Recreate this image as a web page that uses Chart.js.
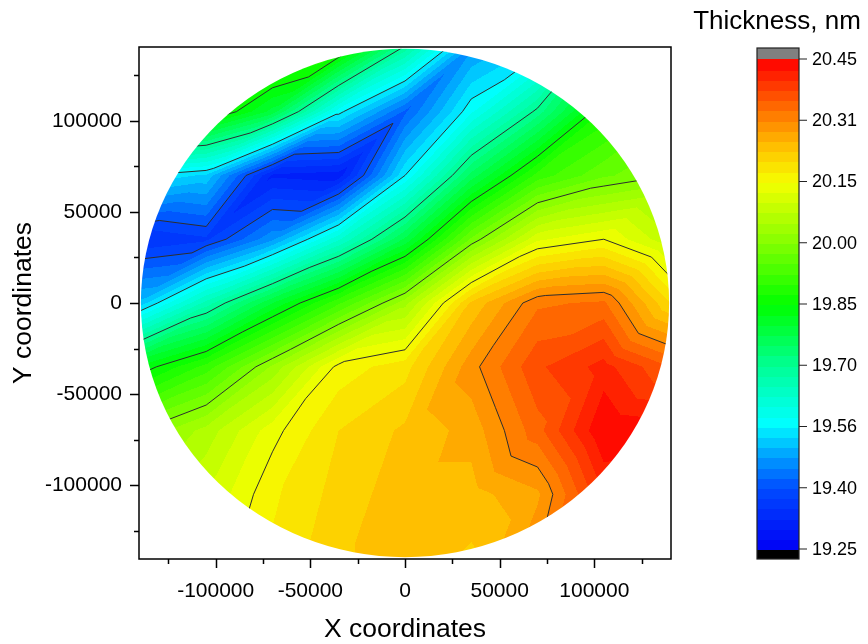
<!DOCTYPE html>
<html>
<head>
<meta charset="utf-8">
<title>Thickness map</title>
<script src="https://cdn.jsdelivr.net/npm/chart.js@4.4.1/dist/chart.umd.min.js"></script>
<style>
  body { margin: 0; background: #fff; }
  canvas { display: block; }
</style>
</head>
<body>
<canvas id="map" width="868" height="644"></canvas>
<script>
const gridX = [-140000, -105000, -70000, -35000, 0, 35000, 70000, 105000, 140000];
const gridY = [140000, 105000, 70000, 35000, 0, -35000, -70000, -105000, -140000];
const thickness = [
    [19.95, 19.95, 19.95, 19.90, 19.69, 19.47, 19.53, 19.75, 19.85],
    [19.80, 19.90, 19.79, 19.56, 19.42, 19.57, 19.71, 19.88, 19.95],
    [19.55, 19.52, 19.32, 19.31, 19.55, 19.76, 19.91, 19.97, 20.00],
    [19.35, 19.37, 19.47, 19.62, 19.78, 19.98, 20.12, 20.15, 20.08],
    [19.51, 19.66, 19.80, 19.92, 20.04, 20.23, 20.32, 20.33, 20.20],
    [19.83, 19.91, 20.03, 20.16, 20.19, 20.29, 20.37, 20.41, 20.35],
    [20.00, 20.06, 20.14, 20.20, 20.23, 20.26, 20.34, 20.45, 20.44],
    [20.05, 20.10, 20.17, 20.21, 20.24, 20.24, 20.27, 20.40, 20.45],
    [20.08, 20.12, 20.18, 20.22, 20.24, 20.22, 20.30, 20.38, 20.42]
];
const waferRadius = 139500;

// colour scale
const levelMin = 19.25;
const levelMax = 20.45;
const levelCount = 48;
const contourLevels = [19.40, 19.55, 19.70, 19.85, 20.00, 20.15, 20.30];
const colorbarLabels = ['20.45', '20.31', '20.15', '20.00', '19.85', '19.70', '19.56', '19.40', '19.25'];

// axis ticks
const xTicks = [-125000, -100000, -75000, -50000, -25000, 0, 25000, 50000, 75000, 100000, 125000];
const yTicks = [-125000, -100000, -75000, -50000, -25000, 0, 25000, 50000, 75000, 100000, 125000];

const FONT = '"Liberation Sans", Arial, sans-serif';

// rainbow palette, value -> rgb
const paletteStops = [
    [19.25, [0, 0, 245]],
    [19.40, [0, 75, 255]],
    [19.48, [0, 160, 255]],
    [19.56, [0, 255, 255]],
    [19.70, [0, 255, 150]],
    [19.85, [0, 255, 0]],
    [20.00, [130, 255, 0]],
    [20.15, [245, 255, 0]],
    [20.23, [255, 198, 0]],
    [20.31, [255, 128, 0]],
    [20.45, [255, 0, 0]]
];

const paletteAt = (v) => {
    if (v <= paletteStops[0][0]) return paletteStops[0][1];
    for (let k = 1; k < paletteStops.length; k++) {
        const [v1, c1] = paletteStops[k];
        if (v <= v1) {
            const [v0, c0] = paletteStops[k - 1];
            const t = (v - v0) / (v1 - v0);
            return c0.map((c, n) => Math.round(c + (c1[n] - c) * t));
        }
    }
    return paletteStops[paletteStops.length - 1][1];
};

const levelStep = (levelMax - levelMin) / levelCount;
const bandColors = [];
for (let i = 0; i < levelCount; i++) bandColors.push(paletteAt(levelMin + (i + 0.5) * levelStep));

const bandColor = (v) => {
    const idx = Math.floor((v - levelMin) / levelStep);
    if (idx < 0) return [0, 0, 0];
    if (idx >= levelCount) return [128, 128, 128];
    return bandColors[idx];
};

// linear interpolation on the triangulated grid
const thicknessAt = (xv, yv) => {
    const fx = (xv - gridX[0]) / (gridX[1] - gridX[0]);
    const fy = (gridY[0] - yv) / (gridY[0] - gridY[1]);
    const i = Math.min(Math.max(Math.floor(fx), 0), gridX.length - 2);
    const j = Math.min(Math.max(Math.floor(fy), 0), gridY.length - 2);
    const tx = fx - i, ty = fy - j;
    const a = thickness[j][i], b = thickness[j][i + 1];
    const c = thickness[j + 1][i], d = thickness[j + 1][i + 1];
    if (tx + ty <= 1) return a + (b - a) * tx + (c - a) * ty;
    return d + (c - d) * (1 - tx) + (b - d) * (1 - ty);
};

const contourMap = {
    id: 'contourMap',
    beforeDatasetsDraw(chart) {
        const {ctx, chartArea: area, scales: {x, y}} = chart;
        const w = Math.round(area.right - area.left);
        const h = Math.round(area.bottom - area.top);
        const off = document.createElement('canvas');
        off.width = w;
        off.height = h;
        const octx = off.getContext('2d');
        const img = octx.createImageData(w, h);
        for (let j = 0; j < h; j++) {
            const yv = y.getValueForPixel(area.top + j + 0.5);
            for (let i = 0; i < w; i++) {
                const xv = x.getValueForPixel(area.left + i + 0.5);
                const c = bandColor(thicknessAt(xv, yv));
                const k = (j * w + i) * 4;
                img.data[k] = c[0];
                img.data[k + 1] = c[1];
                img.data[k + 2] = c[2];
                img.data[k + 3] = 255;
            }
        }
        octx.putImageData(img, 0, 0);

        const cx = x.getPixelForValue(0), cy = y.getPixelForValue(0);
        const rx = x.getPixelForValue(waferRadius) - cx;
        const ry = cy - y.getPixelForValue(waferRadius);
        ctx.save();
        ctx.beginPath();
        ctx.ellipse(cx, cy, rx, ry, 0, 0, Math.PI * 2);
        ctx.clip();
        ctx.drawImage(off, area.left, area.top);

        // contour lines, one straight segment per triangle
        ctx.strokeStyle = '#2e2e2e';
        ctx.lineWidth = 1;
        ctx.beginPath();
        for (let j = 0; j < gridY.length - 1; j++) {
            for (let i = 0; i < gridX.length - 1; i++) {
                const A = {x: gridX[i], y: gridY[j], v: thickness[j][i]};
                const B = {x: gridX[i + 1], y: gridY[j], v: thickness[j][i + 1]};
                const C = {x: gridX[i], y: gridY[j + 1], v: thickness[j + 1][i]};
                const D = {x: gridX[i + 1], y: gridY[j + 1], v: thickness[j + 1][i + 1]};
                [[A, B, C], [B, D, C]].forEach(tri => {
                    contourLevels.forEach(level => {
                        const L = level + 1e-7;
                        const pts = [];
                        for (let e = 0; e < 3; e++) {
                            const p = tri[e], q = tri[(e + 1) % 3];
                            if ((p.v - L) * (q.v - L) < 0) {
                                const t = (L - p.v) / (q.v - p.v);
                                pts.push([p.x + t * (q.x - p.x), p.y + t * (q.y - p.y)]);
                            }
                        }
                        if (pts.length === 2) {
                            ctx.moveTo(x.getPixelForValue(pts[0][0]), y.getPixelForValue(pts[0][1]));
                            ctx.lineTo(x.getPixelForValue(pts[1][0]), y.getPixelForValue(pts[1][1]));
                        }
                    });
                });
            }
        }
        ctx.stroke();
        ctx.restore();
    },
    afterDatasetsDraw(chart) {
        const {ctx, chartArea: area, scales: {x, y}} = chart;
        ctx.save();
        ctx.strokeStyle = '#000';
        ctx.lineWidth = 1.5;
        ctx.strokeRect(area.left, area.top, area.right - area.left, area.bottom - area.top);
        ctx.beginPath();
        xTicks.forEach(v => {
            const px = Math.round(x.getPixelForValue(v)) + 0.5;
            const len = v % 50000 === 0 ? 9 : 5;
            ctx.moveTo(px, area.bottom);
            ctx.lineTo(px, area.bottom + len);
        });
        yTicks.forEach(v => {
            const py = Math.round(y.getPixelForValue(v)) + 0.5;
            const len = v % 50000 === 0 ? 9 : 5;
            ctx.moveTo(area.left, py);
            ctx.lineTo(area.left - len, py);
        });
        ctx.stroke();
        ctx.restore();
    },
    afterDraw(chart) {
        const {ctx} = chart;
        const left = 757, right = 799, top = 59, bottom = 549;
        const bandH = (bottom - top) / levelCount;
        ctx.save();
        ctx.fillStyle = 'rgb(128,128,128)';
        ctx.fillRect(left, top - 11, right - left, 11);
        ctx.fillStyle = '#000';
        ctx.fillRect(left, bottom, right - left, 10);
        bandColors.forEach((c, i) => {
            ctx.fillStyle = `rgb(${c[0]},${c[1]},${c[2]})`;
            const y0 = bottom - (i + 1) * bandH;
            ctx.fillRect(left, Math.floor(y0), right - left, Math.ceil(bandH) + 1);
        });
        ctx.strokeStyle = '#222';
        ctx.lineWidth = 1.2;
        ctx.strokeRect(left, top - 11, right - left, bottom - top + 21);

        ctx.fillStyle = '#000';
        ctx.font = `18px ${FONT}`;
        ctx.textAlign = 'left';
        ctx.textBaseline = 'middle';
        ctx.beginPath();
        colorbarLabels.forEach((lbl, i) => {
            const ty = top + i * (bottom - top) / (colorbarLabels.length - 1);
            ctx.moveTo(right, ty);
            ctx.lineTo(right + 8, ty);
            ctx.fillText(lbl, right + 13, ty + 1);
        });
        ctx.stroke();

        ctx.font = `26px ${FONT}`;
        ctx.textAlign = 'center';
        ctx.textBaseline = 'alphabetic';
        ctx.fillText('Thickness, nm', 777, 29);
        ctx.restore();
    }
};

const points = [];
gridY.forEach((gy, j) => gridX.forEach((gx, i) => points.push({x: gx, y: gy, v: thickness[j][i]})));

const tickLabel = (value) => (value % 50000 === 0 ? String(value) : '');

new Chart(document.getElementById('map'), {
    type: 'scatter',
    data: {
        datasets: [{
            label: 'Thickness, nm',
            data: points,
            pointRadius: 0,
            showLine: false
        }]
    },
    options: {
        responsive: false,
        animation: false,
        events: [],
        layout: {padding: {left: 0, right: 197, top: 47, bottom: 0}},
        plugins: {legend: {display: false}, tooltip: {enabled: false}},
        scales: {
            x: {
                type: 'linear',
                min: -140500,
                max: 140500,
                afterBuildTicks: s => { s.ticks = xTicks.map(v => ({value: v})); },
                afterFit: s => { s.height = 85; },
                grid: {display: false, drawTicks: true, tickLength: 9},
                border: {display: false},
                ticks: {
                    callback: tickLabel,
                    autoSkip: false,
                    maxRotation: 0,
                    minRotation: 0,
                    padding: 11,
                    color: '#000',
                    font: {family: FONT, size: 21}
                },
                title: {
                    display: true,
                    text: 'X coordinates',
                    color: '#000',
                    padding: {top: 0, bottom: 2},
                    font: {family: FONT, size: 26.5, lineHeight: 0.9}
                }
            },
            y: {
                type: 'linear',
                min: -140500,
                max: 140500,
                afterBuildTicks: s => { s.ticks = yTicks.map(v => ({value: v})); },
                afterFit: s => { s.width = 139; },
                grid: {display: false, drawTicks: true, tickLength: 9},
                border: {display: false},
                ticks: {
                    callback: tickLabel,
                    autoSkip: false,
                    padding: 8,
                    color: '#000',
                    font: {family: FONT, size: 21}
                },
                title: {
                    display: true,
                    text: 'Y coordinates',
                    color: '#000',
                    padding: {top: 11.5, bottom: 0},
                    font: {family: FONT, size: 26.5, lineHeight: 0.9}
                }
            }
        }
    },
    plugins: [contourMap]
});
</script>
</body>
</html>
